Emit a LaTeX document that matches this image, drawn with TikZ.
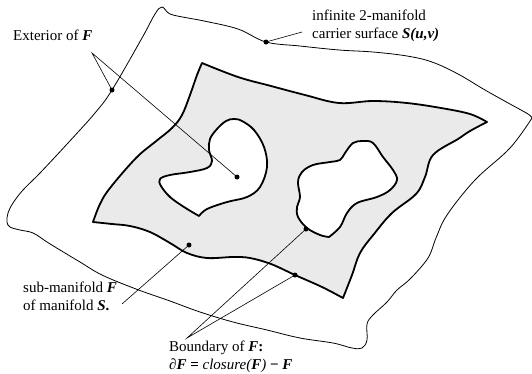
\documentclass[tikz,border=0pt]{standalone}
\usepackage{fontspec}
\setmainfont{Liberation Serif}
\definecolor{fillgray}{RGB}{234,234,234}
\begin{document}
\begin{tikzpicture}[x=1pt,y=-1pt,
  thinline/.style={line width=0.8pt, line join=round},
  boundary/.style={line width=1.8pt, line join=round},
  dot/.style={circle,fill=black,inner sep=0pt,minimum size=5pt},
  lbl/.style={anchor=north west,inner sep=0pt,align=left,font=\fontsize{15}{17.5}\selectfont},
  leader/.style={line width=0.6pt}]
\useasboundingbox (0,0) rectangle (532,373);

% carrier surface
\draw[thinline] plot[smooth, tension=0.6] coordinates {
 (532,118) (528,114) (510,104) (485,90) (458,74) (432,62) (407,56) (373,52) (339,50)
 (300,46) (266,42) (238,29) (204,21) (188,18) (170,14) (162,7) (155,14) (142,38)
 (112,90) (95,113) (68,143) (40,173) (23,190) (13,203) (8,213) (7,222) (10,227)
 (20,230) (33,233) (47,242) (60,250) (80,262) (102,275) (136,289) (170,301) (200,312)
 (233,322) (267,330) (300,338) (333,343) (352,348) (362,348) (367,340) (367,324)
 (373,315) (387,302) (397,290) (410,279) (428,258) (436,238) (447,215) (475,180)
 (510,148) (532,118)};

% sub-manifold F
\filldraw[boundary, fill=fillgray]
 plot[smooth, tension=0.6] coordinates {(202,63) (238,77) (271,86) (305,95) (339,103) (373,101) (407,103) (441,108) (470,114) (487,122)}
 -- plot[smooth, tension=0.6] coordinates {(487,122) (470,131) (458,139) (433,155) (425,177) (416,194) (392,213) (374,234) (360,253) (352,275) (343,298)}
 -- plot[smooth, tension=0.6] coordinates {(343,298) (322,287) (295,275) (271,264) (250,258) (233,257) (207,258) (187,253) (170,243) (150,232) (130,226) (112,224) (93,222)}
 -- plot[smooth, tension=0.6] coordinates {(93,222) (100,204) (110,188) (136,158) (155,142) (172,128) (182,115) (190,95) (197,75) (202,63)}
 -- cycle;

% holes
\filldraw[boundary, fill=white] plot[smooth, tension=0.6] coordinates {
 (199,216) (207,209) (227,202) (247,197) (260,187) (267,167) (264,147) (254,130)
 (242,121) (234,119) (226,121) (217,129) (210,139) (209,150) (212,161) (207,168)
 (190,172) (170,175) (160,179) (161,186) (170,197) (184,207) (199,216)} -- cycle;
\filldraw[boundary, fill=white] plot[smooth, tension=0.6] coordinates {
 (329,237) (340,227) (347,213) (357,203) (377,197) (390,190) (397,180) (393,170)
 (383,157) (373,143) (363,141) (353,143) (345,153) (340,160) (330,162) (313,165)
 (302,172) (298,182) (300,197) (297,207) (298,217) (307,228) (320,235) (329,237)} -- cycle;

% dots
\node[dot] (dext) at (112,90) {};
\node[dot] (dhole) at (237,177) {};
\node[dot] (dcar) at (266,42) {};
\node[dot] (dsub) at (189,245) {};
\node[dot] (dhb) at (306,229) {};
\node[dot] (dob) at (295,275) {};

% leader points
\coordinate (aext) at (92,53);
\coordinate (acar) at (302,32);
\coordinate (asub) at (122,304);
\coordinate (abd) at (187,338);

\draw[leader] (dext.center) -- (aext) -- (dhole.center);
\draw[leader] (dcar.center) -- (acar);
\draw[leader] (asub) -- (dsub.center);
\draw[leader] (dhb.center) -- (abd) -- (dob.center);

% labels
\node[lbl] (text) at (13,30) {Exterior of \textbf{\textit{F}}};
\node[lbl] (tcar) at (312,10) {infinite 2-manifold\\carrier surface \textbf{\textit{S(u,v)}}};
\node[lbl] (tsub) at (23,282) {sub-manifold \textbf{\textit{F}}\\of manifold \textbf{\textit{S}.}};
\node[lbl] (tbd) at (169,341) {Boundary of \textbf{\textit{F}:}\\\textbf{∂\textit{F} =} \textit{closure(\textbf{F})} \textbf{− \textit{F}}};
\end{tikzpicture}
\end{document}
